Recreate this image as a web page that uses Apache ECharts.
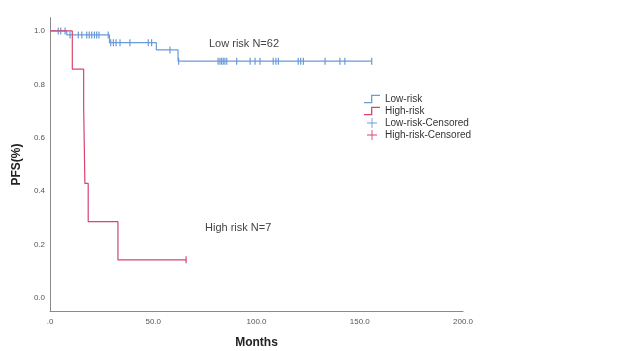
<!DOCTYPE html>
<html>
<head>
<meta charset="utf-8">
<script src="https://cdn.jsdelivr.net/npm/echarts@6/dist/echarts.min.js"></script>
<style>
  html, body { margin: 0; padding: 0; background: #fff; }
  #chart { width: 624px; height: 351px; }
</style>
</head>
<body>
<div id="chart"></div>
<script>
// Kaplan-Meier steps (time in months, survival)
const lowTimes = [0, 8.1, 28.8, 51.5, 62.0, 155.8];
const lowSurv = [1.0, 0.985, 0.956, 0.929, 0.887, 0.887];
const lowCensored = [4.0, 5.2, 7.3, 9.7, 13.7, 15.4, 17.8, 19.0, 20.2, 21.5, 22.6, 23.7, 28.2,
  29.4, 30.7, 32.0, 33.9, 38.7, 47.6, 49.2, 58.1, 62.3, 81.4, 82.3, 83.1, 83.9, 84.7, 85.6,
  90.4, 96.9, 99.3, 101.7, 108.1, 109.4, 110.6, 120.2, 121.4, 122.7, 133.2, 140.4, 142.8, 155.8];

const highTimes = [0, 10.8, 16.3, 16.6, 16.9, 18.5, 32.9, 65.9];
const highSurv = [1.0, 0.857, 0.714, 0.571, 0.429, 0.286, 0.143, 0.143];
const highCensored = [65.9];

const xTicks = [0, 50, 100, 150, 200];
const yTicks = [0, 0.2, 0.4, 0.6, 0.8, 1.0];

const blue = '#6a9bd9';
const red = '#d8456e';
const font = 'Liberation Sans, Arial, sans-serif';

function survAt(times, surv, t) {
  let s = surv[0];
  for (let i = 0; i < times.length; i++) {
    if (times[i] <= t) s = surv[i];
  }
  return s;
}

const stepIcon = 'path://M0,8.8H8.8V0H20V1.6H10.4V10.4H0Z';
const plusIcon = 'path://M9.1,0H10.9V9.1H20V10.9H10.9V20H9.1V10.9H0V9.1H9.1Z';

const chart = echarts.init(document.getElementById('chart'));
chart.setOption({
  animation: false,
  grid: { left: 50, right: 161, top: 17.6, bottom: 39.6, outerBoundsMode: 'none', containLabel: false },
  xAxis: {
    type: 'value',
    min: 0, max: 200, interval: 50,
    name: 'Months',
    nameLocation: 'middle',
    nameGap: 25,
    nameTextStyle: { fontFamily: font, fontWeight: 'bold', fontSize: 12, color: '#222' },
    axisLine: { onZero: false, lineStyle: { color: '#8a8a8a', width: 1 } },
    axisTick: { show: false },
    splitLine: { show: false },
    axisLabel: {
      fontFamily: font, fontSize: 8, color: '#555', margin: 6,
      customValues: xTicks,
      formatter: v => (v === 0 ? '.0' : v.toFixed(1))
    }
  },
  yAxis: {
    type: 'value',
    min: -0.05, max: 1.05,
    name: 'PFS(%)',
    nameLocation: 'middle',
    nameGap: 24,
    nameTextStyle: { fontFamily: font, fontWeight: 'bold', fontSize: 12, color: '#222' },
    axisLine: { show: true, onZero: false, lineStyle: { color: '#8a8a8a', width: 1 } },
    axisTick: { show: false },
    splitLine: { show: false },
    axisLabel: {
      fontFamily: font, fontSize: 8, color: '#555', margin: 5,
      customValues: yTicks,
      formatter: v => v.toFixed(1)
    }
  },
  legend: {
    orient: 'vertical',
    left: 359, top: 89,
    itemWidth: 16, itemHeight: 10, itemGap: 2,
    textStyle: { fontFamily: font, fontSize: 10, color: '#333' },
    data: [
      { name: 'Low-risk', icon: stepIcon, itemStyle: { color: blue, borderWidth: 0, opacity: 1 } },
      { name: 'High-risk', icon: stepIcon, itemStyle: { color: red, borderWidth: 0, opacity: 1 } },
      { name: 'Low-risk-Censored', icon: plusIcon, itemStyle: { color: blue, borderWidth: 0, opacity: 1 } },
      { name: 'High-risk-Censored', icon: plusIcon, itemStyle: { color: red, borderWidth: 0, opacity: 1 } }
    ]
  },
  graphic: [
    { type: 'text', left: 209, top: 38, style: { text: 'Low risk N=62', font: '11px ' + font, fill: '#444' } },
    { type: 'text', left: 205, top: 222, style: { text: 'High risk N=7', font: '11px ' + font, fill: '#444' } }
  ],
  series: [
    {
      name: 'Low-risk',
      type: 'line',
      step: 'end',
      showSymbol: false,
      lineStyle: { color: blue, width: 1.2 },
      itemStyle: { color: blue },
      data: lowTimes.map((t, i) => [t, lowSurv[i]])
    },
    {
      name: 'Low-risk-Censored',
      type: 'scatter',
      symbol: 'rect',
      symbolSize: [1.2, 7],
      itemStyle: { color: blue, opacity: 1 },
      data: lowCensored.map(t => [t, survAt(lowTimes, lowSurv, t)])
    },
    {
      name: 'High-risk',
      type: 'line',
      step: 'end',
      showSymbol: false,
      lineStyle: { color: red, width: 1.2 },
      itemStyle: { color: red },
      data: highTimes.map((t, i) => [t, highSurv[i]])
    },
    {
      name: 'High-risk-Censored',
      type: 'scatter',
      symbol: 'rect',
      symbolSize: [1.2, 7],
      itemStyle: { color: red, opacity: 1 },
      data: highCensored.map(t => [t, survAt(highTimes, highSurv, t)])
    }
  ]
});
</script>
</body>
</html>
